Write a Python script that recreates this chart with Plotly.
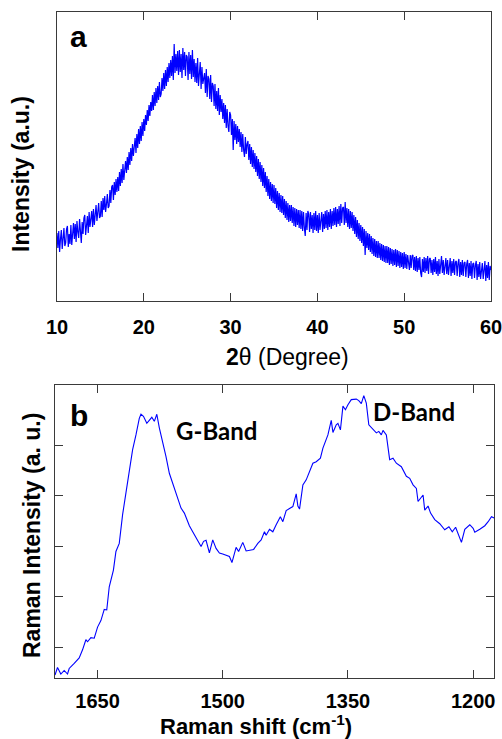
import plotly.graph_objects as go

# ---------------- Panel a: XRD ----------------
two_theta_start = 10.0
two_theta_step = 0.1
xrd_intensity = [
    68, 53, 70, 49, 62, 71, 52, 64, 73, 55,
    58, 72, 75, 54, 67, 57, 76, 56, 70, 78,
    62, 77, 59, 80, 69, 63, 82, 71, 58, 79,
    67, 83, 86, 66, 78, 85, 68, 89, 74, 84,
    90, 74, 92, 76, 87, 96, 80, 89, 98, 83,
    85, 100, 84, 103, 91, 105, 89, 97, 107, 93,
    95, 111, 98, 114, 116, 101, 119, 106, 122, 109,
    124, 110, 129, 115, 132, 118, 137, 121, 135, 140,
    128, 144, 131, 149, 136, 153, 140, 157, 145, 160,
    163, 148, 167, 153, 172, 157, 175, 160, 179, 165,
    182, 170, 186, 176, 191, 180, 196, 185, 199, 190,
    206, 191, 209, 195, 213, 198, 215, 201, 219, 204,
    207, 223, 210, 228, 212, 231, 215, 234, 219, 238,
    223, 241, 225, 245, 221, 257, 228, 247, 230, 250,
    226, 251, 229, 247, 223, 253, 231, 249, 225, 246,
    244, 221, 249, 227, 246, 222, 251, 224, 242, 219,
    238, 218, 243, 215, 235, 239, 212, 234, 217, 222,
    228, 208, 232, 204, 225, 222, 202, 226, 199, 218,
    215, 195, 217, 192, 210, 190, 213, 186, 206, 189,
    202, 182, 198, 178, 196, 173, 192, 175, 169, 189,
    186, 166, 182, 151, 180, 161, 177, 157, 175, 159,
    172, 154, 169, 149, 167, 151, 144, 164, 147, 157,
    160, 141, 157, 137, 154, 134, 151, 132, 148, 129,
    145, 125, 142, 122, 139, 119, 136, 115, 133, 113,
    129, 109, 125, 105, 122, 102, 119, 100, 117, 98,
    116, 97, 113, 93, 110, 91, 108, 89, 106, 88,
    105, 86, 102, 83, 100, 81, 98, 79, 96, 80,
    96, 78, 94, 75, 93, 74, 92, 76, 91, 73,
    91, 72, 90, 70, 89, 73, 65, 88, 71, 90,
    87, 69, 89, 72, 86, 68, 88, 71, 90, 70,
    86, 68, 88, 71, 85, 89, 69, 87, 72, 90,
    73, 91, 71, 89, 74, 92, 72, 90, 75, 93,
    76, 94, 74, 92, 77, 95, 75, 97, 78, 93,
    94, 76, 99, 78, 93, 74, 92, 72, 90, 73,
    89, 70, 86, 67, 84, 64, 81, 62, 78, 60,
    76, 58, 74, 55, 72, 46, 70, 53, 68, 51,
    67, 49, 65, 47, 63, 45, 62, 44, 60, 43,
    60, 43, 58, 41, 57, 40, 56, 39, 55, 38,
    55, 38, 54, 36, 53, 37, 52, 35, 51, 36,
    52, 34, 51, 35, 50, 33, 49, 34, 48, 32,
    49, 33, 47, 32, 46, 34, 31, 46, 33, 45,
    46, 31, 44, 30, 45, 29, 43, 31, 44, 28,
    24, 42, 29, 44, 28, 43, 30, 45, 27, 42,
    43, 28, 41, 26, 42, 29, 44, 27, 40, 25,
    42, 27, 40, 45, 28, 41, 26, 40, 43, 27,
    41, 26, 39, 43, 25, 40, 28, 42, 26, 39,
    40, 25, 38, 42, 24, 39, 26, 41, 25, 38,
    39, 24, 37, 41, 23, 38, 25, 40, 22, 37,
    38, 23, 36, 40, 21, 37, 24, 39, 22, 36,
    38, 22, 35, 40, 20, 36, 23, 39, 21, 35,
    31,
]
two_theta = [round(two_theta_start + two_theta_step * i, 1) for i in range(len(xrd_intensity))]
xrd_ticks = [10, 20, 30, 40, 50, 60]

# ---------------- Panel b: Raman ----------------
raman_shift = [
    1701, 1698, 1694, 1690, 1686, 1684, 1678, 1672, 1668, 1664,
    1662, 1658, 1654, 1650, 1646, 1642, 1639, 1636, 1631, 1628,
    1624, 1620, 1616, 1612, 1608, 1604, 1600, 1598, 1595, 1591,
    1588, 1585, 1582, 1579, 1576, 1572, 1568, 1564, 1560, 1556,
    1550, 1546, 1542, 1540, 1536, 1531, 1526, 1523, 1520, 1516,
    1512, 1508, 1504, 1500, 1496, 1492, 1489, 1484, 1481, 1476,
    1472, 1468, 1463, 1458, 1454, 1450, 1448, 1444, 1440, 1436,
    1431, 1428, 1424, 1419, 1416, 1412, 1410, 1408, 1404, 1400,
    1396, 1392, 1388, 1383, 1380, 1377, 1374, 1370, 1368, 1364,
    1362, 1359, 1356, 1353, 1350, 1346, 1340, 1337, 1334, 1331,
    1328, 1325, 1320, 1316, 1313, 1310, 1308, 1304, 1300, 1296,
    1292, 1286, 1280, 1276, 1272, 1268, 1266, 1260, 1258, 1254,
    1251, 1246, 1240, 1234, 1229, 1225, 1221, 1218, 1214, 1210,
    1207, 1204, 1200, 1198, 1192, 1186, 1182, 1178, 1174,
]
raman_intensity = [
    0.45, 0.60, 0.47, 0.54, 0.47, 0.58, 0.68, 0.79, 0.95, 1.15,
    1.11, 1.19, 1.18, 1.40, 1.53, 1.75, 1.74, 2.20, 2.53, 2.90,
    3.06, 3.63, 4.06, 4.52, 4.92, 5.21, 5.54, 5.62, 5.58, 5.44,
    5.51, 5.56, 5.48, 5.62, 5.35, 5.08, 4.78, 4.45, 4.25, 4.02,
    3.76, 3.66, 3.49, 3.41, 3.29, 3.13, 3.00, 3.10, 3.12, 2.87,
    3.13, 2.96, 2.87, 2.85, 2.83, 2.80, 2.68, 2.98, 2.90, 3.08,
    2.91, 2.92, 2.94, 3.06, 3.13, 3.29, 3.22, 3.34, 3.29, 3.43,
    3.59, 3.49, 3.71, 3.76, 3.79, 4.04, 3.80, 3.74, 4.22, 4.32,
    4.49, 4.65, 4.68, 4.75, 4.95, 5.08, 5.21, 5.50, 5.26, 5.41,
    5.44, 5.31, 5.78, 5.71, 5.81, 5.91, 5.92, 5.89, 5.83, 5.99,
    5.84, 5.41, 5.31, 5.25, 5.28, 5.21, 5.30, 5.21, 4.72, 4.75,
    4.65, 4.58, 4.39, 4.35, 4.22, 4.15, 3.89, 4.02, 3.72, 3.80,
    3.66, 3.53, 3.45, 3.33, 3.39, 3.29, 3.38, 3.26, 3.08, 3.34,
    3.38, 3.43, 3.36, 3.28, 3.34, 3.41, 3.49, 3.59, 3.56,
]
raman_ticks = [1650, 1500, 1350, 1200]
raman_ytick_vals = [1, 2, 3, 4, 5]

W, H = 502, 739
FONT = "Arial, 'Liberation Sans', Helvetica, sans-serif"
AXC = "#3a3a3a"
BLUE = "#0000ff"

fig = go.Figure()
fig.add_trace(go.Scatter(x=two_theta, y=xrd_intensity, mode="lines",
                         line=dict(color=BLUE, width=1.2), xaxis="x", yaxis="y",
                         showlegend=False, hoverinfo="skip"))
fig.add_trace(go.Scatter(x=raman_shift, y=raman_intensity, mode="lines",
                         line=dict(color=BLUE, width=1.1), xaxis="x2", yaxis="y2",
                         showlegend=False, hoverinfo="skip"))

common_axis = dict(showline=True, linecolor=AXC, linewidth=1, mirror="ticks",
                   showgrid=False, zeroline=False, ticks="inside", ticklen=8,
                   tickcolor=AXC, tickwidth=1, automargin=False)

fig.update_layout(
    width=W, height=H,
    margin=dict(l=0, r=0, t=0, b=0),
    paper_bgcolor="white", plot_bgcolor="white",
    font=dict(family=FONT, color="black"),
    xaxis=dict(**common_axis, domain=[57 / W, 491 / W], anchor="y",
               range=[10, 60], tickvals=xrd_ticks, ticklabeloverflow="allow",
               tickfont=dict(size=20, weight="bold", family=FONT),
               ticklabelstandoff=8),
    yaxis=dict(showline=True, linecolor=AXC, linewidth=1, mirror=True,
               showgrid=False, zeroline=False, ticks="", showticklabels=False,
               automargin=False,
               domain=[1 - 301 / H, 1 - 12 / H], anchor="x", range=[0, 289]),
    xaxis2=dict(**common_axis, domain=[55 / W, 494 / W], anchor="y2",
                range=[1701, 1175], tickvals=raman_ticks, ticklabeloverflow="allow",
                tickfont=dict(size=20, weight="bold", family=FONT),
                ticklabelstandoff=5),
    yaxis2=dict(**common_axis, domain=[1 - 678 / H, 1 - 385 / H], anchor="x2",
                range=[0.391, 6.2], tickvals=raman_ytick_vals, showticklabels=False),
)

def ann(text, x, y, size, bold=True, angle=0, family=FONT):
    fig.add_annotation(text=text, x=x / W, y=1 - y / H, xref="paper", yref="paper",
                       showarrow=False, textangle=angle, xanchor="center", yanchor="middle",
                       font=dict(size=size, family=family, color="black",
                                 weight="bold" if bold else "normal"))

ann("a", 78, 36, 30)
ann("b", 79, 415, 30)
ann("Intensity (a.u.)", 21, 174, 23, angle=-90)
ann("Raman Intensity (a. u.)", 32, 536, 23, angle=-90)
ann("<b>2</b>θ (Degree)", 287, 357, 23, bold=False)
ann("Raman shift (cm<sup>-1</sup>)", 256, 725, 22)
ann("G-Band", 216, 430, 24, family="Lato, 'Open Sans', sans-serif")
ann("D-Band", 414, 411, 24, family="Lato, 'Open Sans', sans-serif")

fig.write_html("out.html")
